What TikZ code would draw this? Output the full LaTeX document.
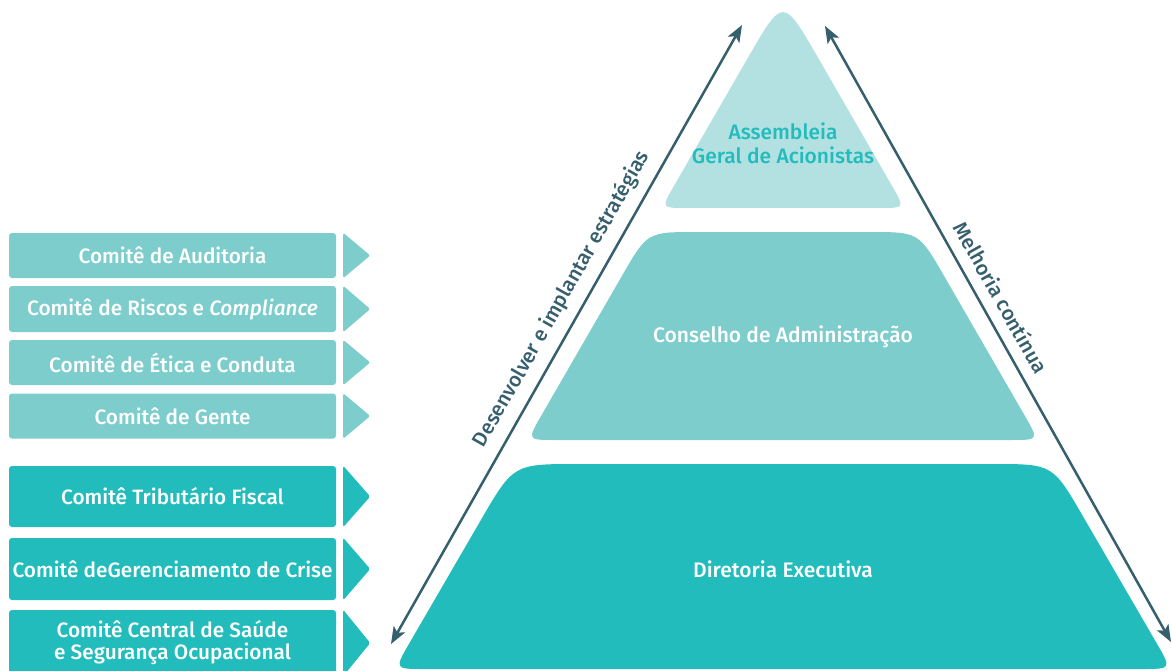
\documentclass[tikz,border=0pt]{standalone}
\usepackage{fontspec}
\setmainfont{Fira Sans}[UprightFont=* Medium, ItalicFont=* Medium Italic]
\usetikzlibrary{arrows.meta, calc, positioning}

\definecolor{paleteal}{HTML}{B3E0E1}
\definecolor{midteal}{HTML}{7DCDCD}
\definecolor{deepteal}{HTML}{22BCBC}
\definecolor{slate}{HTML}{365F6E}

\tikzstyle{flow} = [line width=2.5pt, draw=slate, {Stealth[length=17pt,width=13pt,inset=4pt]}-{Stealth[length=17pt,width=13pt,inset=4pt]}]
\tikzstyle{armlabel} = [font=\fontsize{20.5}{24}\selectfont, text=slate, inner sep=2pt]
\tikzstyle{tier} = [font=\fontsize{21}{24}\selectfont, text=white, align=center]
\tikzstyle{comite} = [minimum width=327pt, rounded corners=3pt, text=white, font=\fontsize{20.8}{22}\selectfont, align=center, inner sep=0pt]

\begin{document}
\begin{tikzpicture}[x=1pt, y=-1pt]
    \useasboundingbox (0,0) rectangle (1172,671);

    % Corners of the three tiers (all on the same 60 degree sides)
    \coordinate (t1) at (783,-3);
    \coordinate (t2) at (904.8,208);
    \coordinate (t3) at (661.2,208);
    \coordinate (m1) at (647.3,232);
    \coordinate (m2) at (918.7,232);
    \coordinate (m3) at (1038.8,440);
    \coordinate (m4) at (527.2,440);
    \coordinate (b1) at (513.4,464);
    \coordinate (b2) at (1052.6,464);
    \coordinate (b3) at (1171.6,669);
    \coordinate (b4) at (394.4,669);

    % Top tier
    \fill[paleteal] ($(t1)!70pt!(t2)$) -- ($(t2)!25pt!(t1)$) .. controls (t2) .. ($(t2)!25pt!(t3)$)
        -- ($(t3)!25pt!(t2)$) .. controls (t3) .. ($(t3)!25pt!(t1)$)
        -- ($(t1)!70pt!(t3)$) .. controls (t1) .. ($(t1)!70pt!(t2)$) -- cycle;
    % Middle tier
    \fill[midteal] ($(m1)!50pt!(m2)$) -- ($(m2)!50pt!(m1)$) .. controls (m2) .. ($(m2)!50pt!(m3)$)
        -- ($(m3)!28pt!(m2)$) .. controls (m3) .. ($(m3)!28pt!(m4)$)
        -- ($(m4)!28pt!(m3)$) .. controls (m4) .. ($(m4)!28pt!(m1)$)
        -- ($(m1)!50pt!(m4)$) .. controls (m1) .. ($(m1)!50pt!(m2)$) -- cycle;
    % Bottom tier
    \fill[deepteal] ($(b1)!65pt!(b2)$) -- ($(b2)!60pt!(b1)$) .. controls (b2) .. ($(b2)!60pt!(b3)$)
        -- ($(b3)!30pt!(b2)$) .. controls (b3) .. ($(b3)!30pt!(b4)$)
        -- ($(b4)!30pt!(b3)$) .. controls (b4) .. ($(b4)!30pt!(b1)$)
        -- ($(b1)!65pt!(b4)$) .. controls (b1) .. ($(b1)!65pt!(b2)$) -- cycle;

    % Tier labels
    \node[tier, text=deepteal] (assembleia) at (783,143) {Assembleia\\Geral de Acionistas};
    \node[tier] (conselho) at (783,337) {Conselho de Administração};
    \node[tier] (diretoria) at (783,569) {Diretoria Executiva};

    % Arrows along the sides
    \coordinate (upL) at (742,25);
    \coordinate (downL) at (391,644);
    \coordinate (upR) at (825,26);
    \coordinate (downR) at (1171,642);
    \draw[flow] (downL) -- (upL)
        node[pos=0.54, sloped, above=8pt, armlabel] (lblL) {Desenvolver e implantar estratégias};
    \draw[flow] (upR) -- (downR)
        node[pos=0.457, sloped, above=9pt, armlabel] (lblR) {Melhoria contínua};

    % Committees on the left
    \foreach \i/\yc/\h/\col/\txt in {
        1/255.5/45/midteal/{Comitê de Auditoria},
        2/309/46/midteal/{Comitê de Riscos e \textit{Compliance}},
        3/362.5/45/midteal/{Comitê de Ética e Conduta},
        4/416/45/midteal/{Comitê de Gente},
        5/496.5/61/deepteal/{Comitê Tributário Fiscal},
        6/569/62/deepteal/{Comitê deGerenciamento de Crise},
        7/643/66/deepteal/{Comitê Central de Saúde\\e Segurança Ocupacional}} {
        \node[comite, fill=\col, minimum height=\h pt] (comite\i) at (172.5,\yc) {\txt};
        \fill[\col, rounded corners=2pt] ([xshift=7pt]comite\i.north east) -- ([xshift=7pt]comite\i.south east)
            -- ([xshift=34pt]comite\i.east) -- cycle;
    }
\end{tikzpicture}
\end{document}
